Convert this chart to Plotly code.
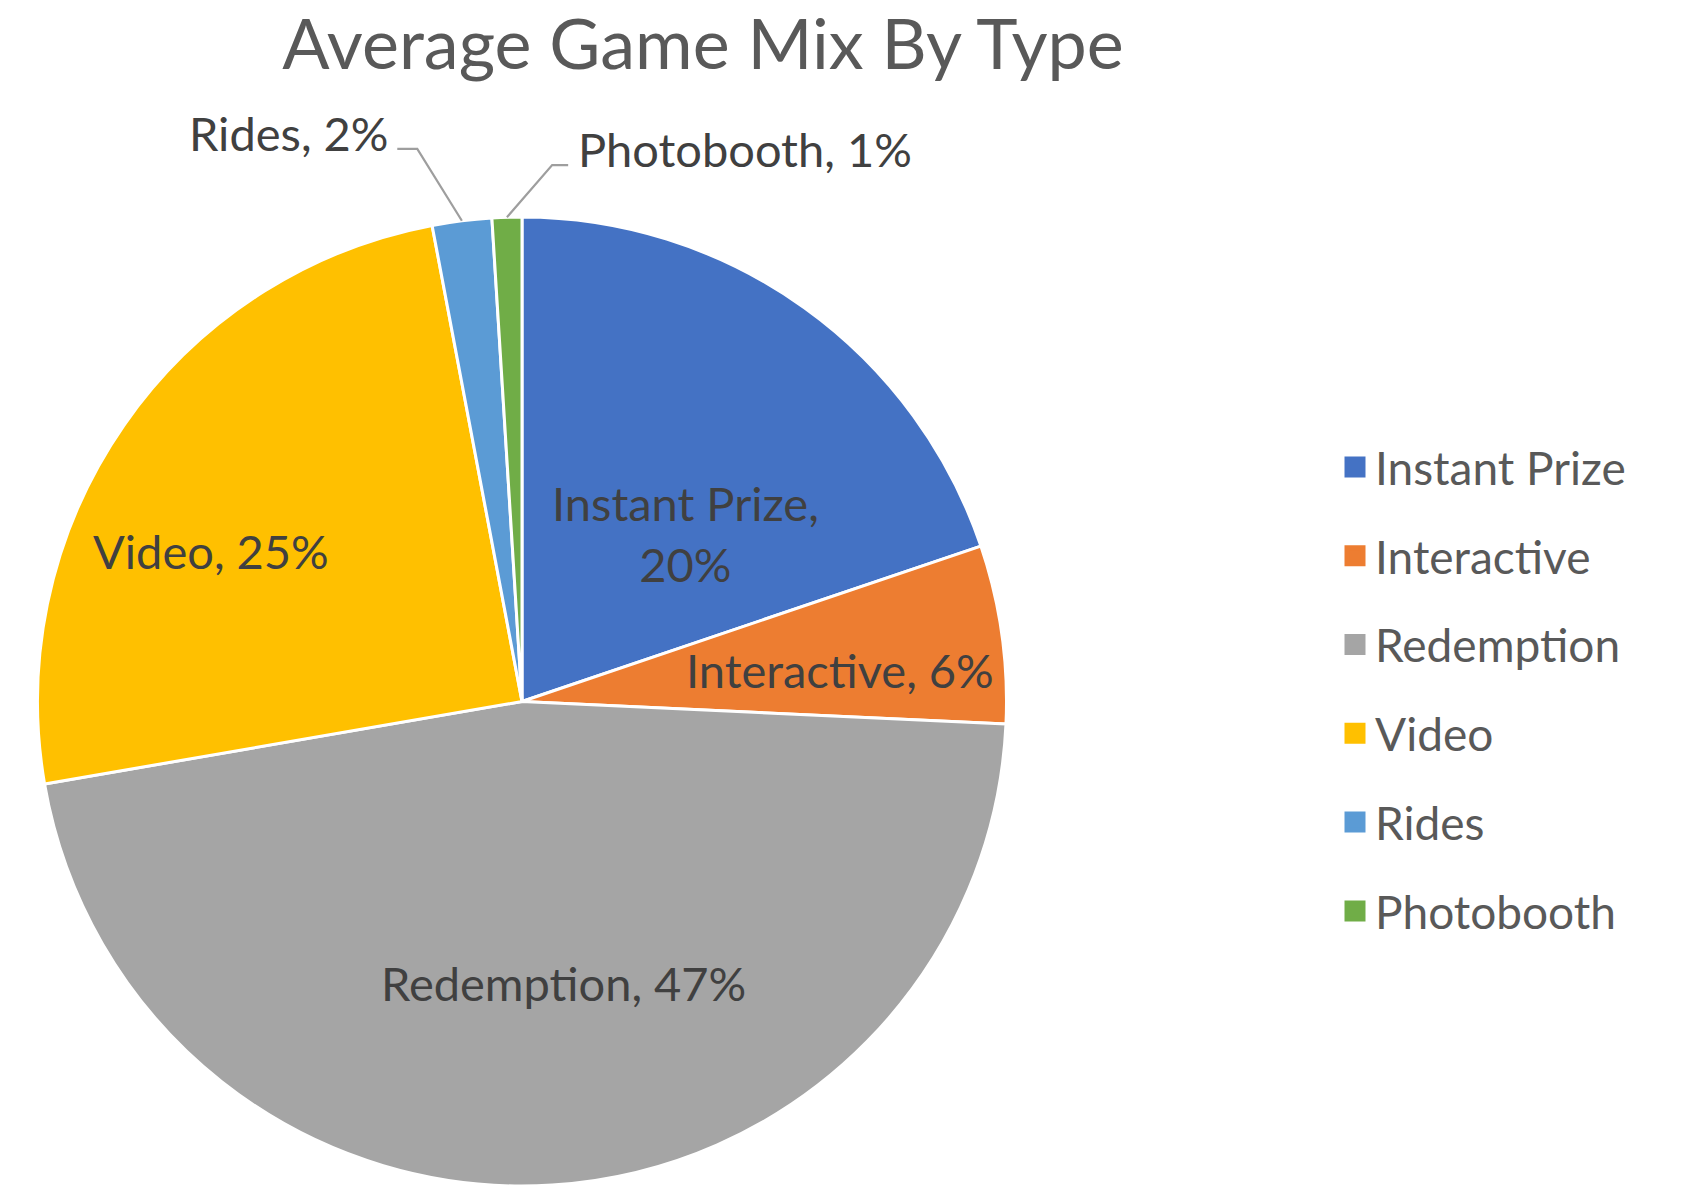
import math
import plotly.graph_objects as go

# Game mix shares (percent)
categories = ["Instant Prize", "Interactive", "Redemption", "Video", "Rides", "Photobooth"]
shares = [20, 6, 47, 25, 2, 1]
colors = ["#4472C4", "#ED7D31", "#A5A5A5", "#FFC000", "#5B9BD5", "#70AD47"]
title_text = "Average Game Mix By Type"

W, H = 1683, 1186
FONT = "Lato"

# Pie geometry in pixels
R = 484.5
CX = 522.0
CY = H - R

# Label placement: radial fraction of R and angular nudge (deg) from the slice middle
inside_place = {
    "Instant Prize": (0.485, 8.6),
    "Interactive": (0.660, 2.4),
    "Redemption": (0.587, -4.9),
    "Video": (0.713, -8.9),
}
# Outside labels: elbow radial fraction, elbow angle nudge, horizontal run (px, signed)
outside_place = {
    "Rides": (1.161, -3.6, -20),
    "Photobooth": (1.109, 5.0, 16),
}
wrap_after_comma = {"Instant Prize"}

total = sum(shares)


def px_to_paper(x, y):
    return x / W, 1 - y / H


def polar(angle_deg, radius):
    a = math.radians(angle_deg)
    return CX + radius * math.sin(a), CY - radius * math.cos(a)


fig = go.Figure()

fig.add_trace(go.Pie(
    labels=categories,
    values=shares,
    sort=False,
    direction="clockwise",
    rotation=0,
    marker=dict(colors=colors, line=dict(color="white", width=3)),
    textinfo="none",
    hoverinfo="label+percent",
    showlegend=False,
    domain=dict(x=[(CX - R) / W, (CX + R) / W], y=[0, 2 * R / H]),
))

# Legend entries as square markers
for i, (cat, col) in enumerate(zip(categories, colors)):
    fig.add_trace(go.Scatter(
        x=[None], y=[None], mode="markers", name=cat,
        legendgroup=f"g{i}",
        marker=dict(symbol="square", size=16, color=col, line=dict(color=col, width=5)),
        hoverinfo="skip",
    ))

annotations = []
shapes = []
cum = 0.0
for cat, v in zip(categories, shares):
    start = cum / total * 360
    cum += v
    end = cum / total * 360
    mid = (start + end) / 2
    pct = round(v / total * 100)
    sep = ",<br>" if cat in wrap_after_comma else ", "
    text = f"{cat}{sep}{pct}%"
    if cat in inside_place:
        frac, nudge = inside_place[cat]
        x, y = polar(mid + nudge, frac * R)
        px_, py_ = px_to_paper(x, y)
        annotations.append(dict(
            x=px_, y=py_, xref="paper", yref="paper", text=text, showarrow=False,
            xanchor="center", yanchor="middle",
            font=dict(family=FONT, size=47, color="#404040"),
        ))
    else:
        frac, nudge, run = outside_place[cat]
        x0, y0 = polar(mid, R)
        x1, y1 = polar(mid + nudge, frac * R)
        x2, y2 = x1 + run, y1
        pts = [px_to_paper(*p) for p in [(x0, y0), (x1, y1), (x2, y2)]]
        path = "M {} {} L {} {} L {} {}".format(*[c for p in pts for c in p])
        shapes.append(dict(type="path", xref="paper", yref="paper", path=path,
                           line=dict(color="#9E9E9E", width=2.2)))
        tx = x2 + (8 if run > 0 else -6)
        tx_, ty_ = px_to_paper(tx, y2 - 16)
        annotations.append(dict(
            x=tx_, y=ty_, xref="paper", yref="paper", text=text, showarrow=False,
            xanchor="left" if run > 0 else "right", yanchor="middle",
            font=dict(family=FONT, size=47, color="#404040"),
        ))

fig.update_layout(
    width=W, height=H,
    margin=dict(l=0, r=0, t=0, b=0),
    paper_bgcolor="white", plot_bgcolor="white",
    title=dict(text=title_text, x=703 / W, xanchor="center", y=1 - 44.5 / H, yanchor="middle",
               yref="container", font=dict(family=FONT, size=70, color="#595959")),
    xaxis=dict(visible=False), yaxis=dict(visible=False),
    showlegend=True,
    legend=dict(
        x=1335 / W, xanchor="left", y=1 - 689 / H, yanchor="middle",
        traceorder="grouped", tracegroupgap=26,
        font=dict(family=FONT, size=46, color="#595959"),
        bgcolor="rgba(0,0,0,0)", borderwidth=0,
    ),
    annotations=annotations,
    shapes=shapes,
)

fig.write_html("out.html")
